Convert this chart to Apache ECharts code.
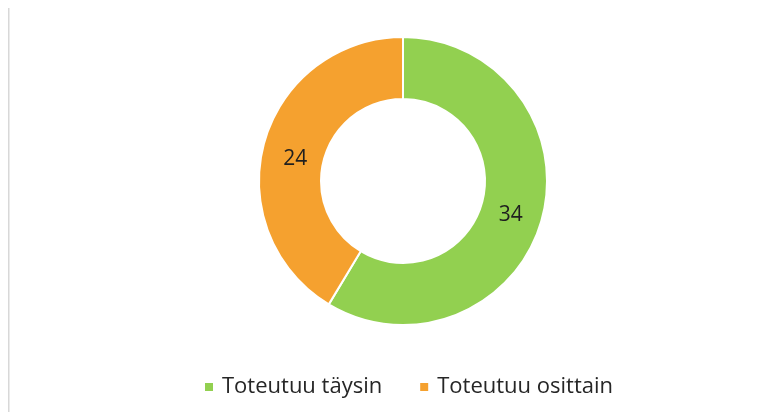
<!DOCTYPE html>
<html>
<head>
<meta charset="utf-8">
<script src="https://cdn.jsdelivr.net/npm/echarts@6/dist/echarts.min.js"></script>
<style>html,body{margin:0;padding:0;background:#fff}#c{width:784px;height:412px}</style>
</head>
<body>
<div id="c"></div>
<script>
const categories = ["Toteutuu täysin", "Toteutuu osittain"];
const values = [34, 24];
const colors = ["#92d050", "#f5a12f"];
const labelShift = [[-4, 3], [4, 9]];

const chart = echarts.init(document.getElementById('c'), null, {renderer: 'canvas'});
chart.setOption({
  animation: false,
  backgroundColor: '#ffffff',
  graphic: [{
    type: 'rect', shape: {x: 8, y: 8, width: 1.5, height: 404},
    style: {fill: '#d8d8d8'}
  }],
  legend: {
    top: 371,
    left: 198,
    itemWidth: 10,
    itemHeight: 10,
    itemGap: 36,
    icon: 'rect',
    textStyle: {fontFamily: 'Open Sans', fontSize: 22, color: '#262626', padding: [0, 0, 0, 3]},
    data: categories
  },
  series: [{
    type: 'pie',
    center: [403, 181],
    radius: [82, 144],
    startAngle: 90,
    clockwise: true,
    avoidLabelOverlap: false,
    itemStyle: {borderColor: '#ffffff', borderWidth: 2},
    label: {
      show: true, position: 'inside', formatter: '{c}',
      fontFamily: 'Open Sans', fontSize: 21, color: '#1f1f1f'
    },
    labelLine: {show: false},
    emphasis: {disabled: true},
    data: categories.map((n, i) => ({
      name: n, value: values[i],
      itemStyle: {color: colors[i]},
      label: {offset: labelShift[i]}
    }))
  }]
});
</script>
</body>
</html>
